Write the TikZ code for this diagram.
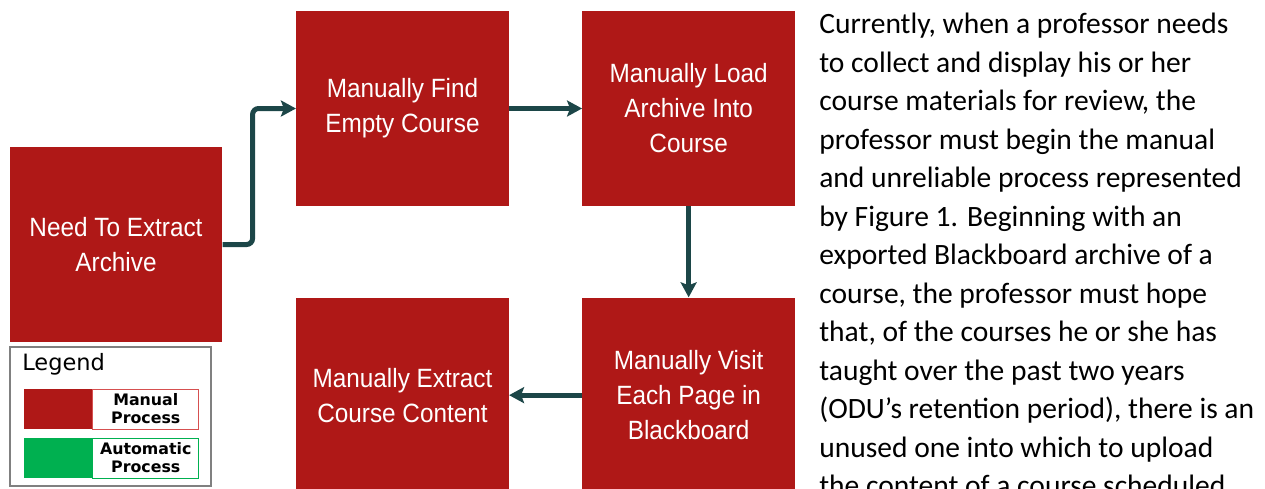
\documentclass[tikz,border=0pt]{standalone}
\usepackage{fontspec}
\setmainfont{Carlito}
\newfontfamily\boxfont[FakeStretch=0.92]{Liberation Sans}
\newfontfamily\legendfont{DejaVu Sans}
\usetikzlibrary{arrows.meta, positioning}
\definecolor{procred}{RGB}{175,24,23}
\definecolor{keyred}{RGB}{214,80,80}
\definecolor{autogreen}{RGB}{0,176,80}
\definecolor{flowcol}{RGB}{28,70,72}
\definecolor{framegray}{RGB}{128,128,128}

\begin{document}
\begin{tikzpicture}[x=0.02cm,y=-0.02cm,node distance=1.82cm and 1.46cm]
\tikzstyle{manual}=[fill=procred,text=white,align=center,inner sep=0pt,
  minimum width=4.25cm,minimum height=3.9cm,
  font=\boxfont\fontsize{15.05pt}{19.9pt}\selectfont]
\tikzstyle{flow}=[-{Stealth[length=0.3cm,width=0.32cm,inset=0.06cm]},line width=0.1cm,draw=flowcol,rounded corners=0.12cm]
\tikzstyle{keytext}=[fill=white,align=center,inner sep=0pt,minimum width=2.12cm,minimum height=0.8cm,
  line width=0.5pt,font=\legendfont\bfseries\fontsize{9pt}{10.2pt}\selectfont]

\useasboundingbox (0,0) rectangle (1265,488);
\clip (0,0) rectangle (1265,488);

\node[manual] (need) at (116,244.5) {Need To Extract\\Archive};
\node[manual] (find) at (402.5,108.5) {Manually Find\\Empty Course};
\node[manual] (load) [right=of find] {Manually Load\\Archive Into\\Course};
\node[manual] (visit) [below=of load] {Manually Visit\\Each Page in\\Blackboard};
\node[manual] (extract) [left=of visit] {Manually Extract\\Course Content};

\draw[flow] (need.east) -- ++(30,0) |- (find.west);
\draw[flow] (find) -- (load);
\draw[flow] (load) -- (visit);
\draw[flow] (visit) -- (extract);

% legend
\node[draw=framegray,line width=0.85pt,minimum width=4.02cm,minimum height=2.78cm,inner sep=0pt] (legend) at (110.5,416.5) {};
\node[anchor=base west,inner sep=0pt,font=\legendfont\fontsize{12.8pt}{14pt}\selectfont] (legendtitle) at (22,370) {Legend};
\node[fill=procred,minimum width=1.36cm,minimum height=0.8cm,inner sep=0pt] (manualkey) at (58,409) {};
\node[keytext,draw=keyred] (manualtext) [right=0pt of manualkey] {Manual\\Process};
\node[fill=autogreen,minimum width=1.36cm,minimum height=0.8cm,inner sep=0pt] (autokey) at (58,458) {};
\node[keytext,draw=autogreen] (autotext) [right=0pt of autokey] {Automatic\\Process};

% text beside the figure
\node[anchor=north west,inner sep=0pt,align=left,font=\fontsize{16.8pt}{21.9pt}\selectfont] (para) at (819,13)
  {Currently, when a professor needs\\
   to collect and display his or her\\
   course materials for review, the\\
   professor must begin the manual\\
   and unreliable process represented\\
   by Figure 1. Beginning with an\\
   exported Blackboard archive of a\\
   course, the professor must hope\\
   that, of the courses he or she has\\
   taught over the past two years\\
   (ODU’s retention period), there is an\\
   unused one into which to upload\\
   the content of a course scheduled};
\end{tikzpicture}
\end{document}
